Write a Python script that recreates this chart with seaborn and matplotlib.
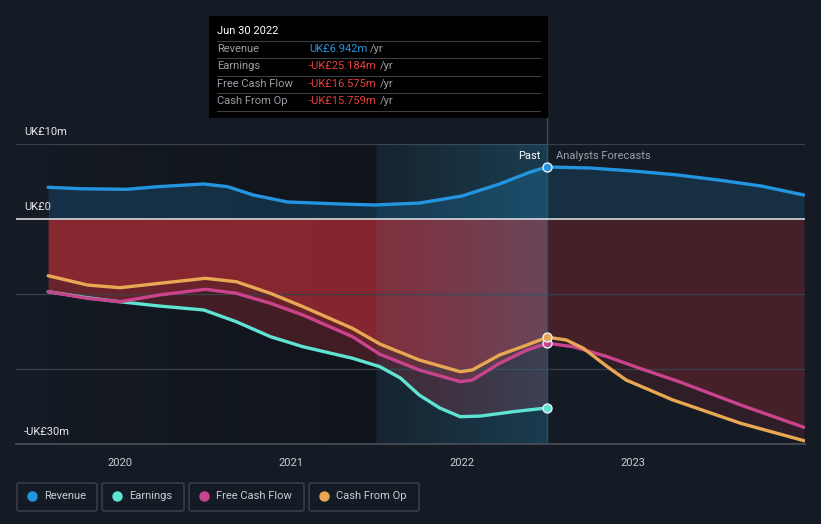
import numpy as np
import pandas as pd
import seaborn as sns
import matplotlib
matplotlib.use("Agg")
import matplotlib.pyplot as plt
from matplotlib.patches import Rectangle, FancyBboxPatch

# ---------------- data (UK£ m) ----------------
rev_x = [2019.58, 2019.77, 2020.04, 2020.22, 2020.49, 2020.63, 2020.78, 2020.98, 2021.29,
         2021.49, 2021.75, 2022.0, 2022.22, 2022.40, 2022.5]
rev_y = [4.23, 4.04, 3.96, 4.31, 4.67, 4.31, 3.2, 2.27, 2.0, 1.87, 2.13, 3.07, 4.67, 6.27, 6.942]
rev_fx = [2022.5, 2022.75, 2023.0, 2023.25, 2023.5, 2023.75, 2024.0]
rev_fy = [6.942, 6.8, 6.4, 5.9, 5.2, 4.4, 3.2]

earn_x = [2019.58, 2019.81, 2020.0, 2020.23, 2020.49, 2020.68, 2020.88, 2021.07, 2021.36,
          2021.52, 2021.64, 2021.75, 2021.87, 2021.99, 2022.11, 2022.30, 2022.5]
earn_y = [-9.69, -10.5, -11.03, -11.6, -12.13, -13.69, -15.69, -17.03, -18.57,
          -19.69, -21.2, -23.47, -25.2, -26.36, -26.27, -25.69, -25.184]

fcf_x = [2019.58, 2019.81, 2020.0, 2020.23, 2020.5, 2020.68, 2020.88, 2021.07, 2021.36,
         2021.52, 2021.75, 2021.99, 2022.06, 2022.22, 2022.38, 2022.5]
fcf_y = [-9.69, -10.58, -11.03, -10.13, -9.37, -9.9, -11.24, -12.8, -15.69,
         -18.04, -20.13, -21.69, -21.47, -19.24, -17.47, -16.575]
cfo_x = [2019.58, 2019.81, 2020.0, 2020.23, 2020.5, 2020.68, 2020.88, 2021.07, 2021.36,
         2021.52, 2021.75, 2021.99, 2022.06, 2022.22, 2022.38, 2022.5]
cfo_y = [-7.56, -8.8, -9.16, -8.58, -7.91, -8.36, -9.91, -11.69, -14.58,
         -16.67, -18.8, -20.36, -20.13, -18.13, -16.8, -15.759]

fcf_fx = [2022.5, 2022.65, 2022.85, 2023.04, 2023.27, 2023.63, 2024.0]
fcf_fy = [-16.575, -17.02, -18.36, -19.91, -21.69, -24.8, -27.78]
cfo_fx = [2022.5, 2022.61, 2022.71, 2022.85, 2022.96, 2023.12, 2023.23, 2023.63, 2024.0]
cfo_fy = [-15.759, -16.13, -17.24, -19.69, -21.47, -23.02, -24.1, -27.24, -29.56]

years = [2020, 2021, 2022, 2023]
year_labels = ["2020", "2021", "2022", "2023"]
ytick_vals = [10, 0, -30]
ytick_labels = ["UK£10m", "UK£0", "-UK£30m"]

series_names = ["Revenue", "Earnings", "Free Cash Flow", "Cash From Op"]
series_colors = ["#2394df", "#5fe3d2", "#c9448c", "#e8a752"]
tooltip_date = "Jun 30 2022"
tooltip_vals = ["UK£6.942m", "-UK£25.184m", "-UK£16.575m", "-UK£15.759m"]

# ---------------- style ----------------
BG = "#151b24"
sns.set_style("dark")
plt.rcParams["font.family"] = ["Roboto", "DejaVu Sans"]

W, H = 821, 524
fig = plt.figure(figsize=(W / 100, H / 100), dpi=100, facecolor=BG)

def fx(x):
    return x / W

def fy(y):
    return 1 - y / H

ax = fig.add_axes([fx(16), fy(444), (805 - 16) / W, (444 - 118) / H])
ax.set_facecolor(BG)
XMIN, XMAX = 2019.392, 2024.006
YMIN, YMAX = -30, 13.47
ax.set_xlim(XMIN, XMAX)
ax.set_ylim(YMIN, YMAX)

# darker past background (gradient)
grad = np.zeros((2, 256, 4))
grad[..., 3] = np.linspace(0.05, 0.22, 256)[None, :]
ax.imshow(grad, extent=(rev_x[0], 2021.5, YMIN, 10), aspect="auto", zorder=0.5,
          interpolation="bilinear")

# revenue fill
ax.fill_between(rev_x, rev_y, 0, color=series_colors[0], alpha=0.2, lw=0, zorder=1)
ax.fill_between(rev_fx, rev_fy, 0, color=series_colors[0], alpha=0.17, lw=0, zorder=1)

# negative fills (past)
red = "#e0343e"
ax.fill_between(earn_x, earn_y, 0, color=red, alpha=0.24, lw=0, zorder=1)
ax.fill_between(fcf_x, fcf_y, 0, color=red, alpha=0.24, lw=0, zorder=1)
ax.fill_between(cfo_x, cfo_y, 0, color=red, alpha=0.26, lw=0, zorder=1)
# negative fills (forecast)
ax.fill_between(fcf_fx, fcf_fy, 0, color=red, alpha=0.13, lw=0, zorder=1)
ax.fill_between(cfo_fx, cfo_fy, 0, color=red, alpha=0.13, lw=0, zorder=1)

# highlighted last-year band (gradient)
hg = np.zeros((2, 256, 4))
hg[..., 0] = 0.15
hg[..., 1] = 0.55
hg[..., 2] = 0.72
hg[..., 3] = np.linspace(0.08, 0.30, 256)[None, :]
ax.imshow(hg, extent=(2021.5, 2022.5, YMIN, 10), aspect="auto", zorder=1.5,
          interpolation="bilinear")

# grid lines
for v in [10, -10, -20]:
    ax.axhline(v, color="#3a3f48", lw=0.9, zorder=1.2)
ax.axhline(0, color="#e8e8ea", lw=1.1, zorder=3)
ax.axvline(2022.5, color="#24546a", lw=1.0, zorder=1.6)

# lines
lw = 2.4
line_sets = [
    (rev_x, rev_y, series_colors[0]), (rev_fx, rev_fy, series_colors[0]),
    (earn_x, earn_y, series_colors[1]),
    (fcf_x, fcf_y, series_colors[2]), (fcf_fx, fcf_fy, series_colors[2]),
    (cfo_x, cfo_y, series_colors[3]), (cfo_fx, cfo_fy, series_colors[3]),
]
for xs, ys, c in line_sets:
    l = sns.lineplot(x=xs, y=ys, ax=ax, color=c, lw=lw, sort=False, estimator=None, zorder=4)
for ln in ax.lines:
    ln.set_solid_joinstyle("round")
    ln.set_solid_capstyle("round")

# markers at the tooltip date
for yv, c in zip([rev_y[-1], earn_y[-1], fcf_y[-1], cfo_y[-1]], series_colors):
    ax.scatter([2022.5], [yv], s=42, color=c, edgecolor="#e8eef2", linewidth=1.0, zorder=5)

# axes cosmetics
for s in ["top", "right", "left"]:
    ax.spines[s].set_visible(False)
ax.spines["bottom"].set_color("#4a4f58")
ax.spines["bottom"].set_linewidth(1.2)
ax.set_xticks(years)
ax.set_xticklabels(year_labels)
ax.set_yticks([])
ax.tick_params(axis="x", length=4, color="#4a4f58", labelcolor="#c9cdd3",
               labelsize=8, pad=6, direction="out")
ax.grid(False)
ax.set_xlabel("")
ax.set_ylabel("")

# y labels
for v, lab in zip(ytick_vals, ytick_labels):
    ypix = 219 - v * 7.5 - 12
    fig.text(fx(24), fy(ypix), lab, color="#e6e8eb", fontsize=8, va="center", ha="left")

# past / forecast labels
fig.text(fx(540), fy(156), "Past", color="#ffffff", fontsize=8, ha="right", va="center")
fig.text(fx(556), fy(156), "Analysts Forecasts", color="#9aa0a8", fontsize=8,
         ha="left", va="center")

# tooltip
fig.patches.append(Rectangle((fx(209), fy(118)), (548 - 209) / W, (118 - 16) / H,
                             transform=fig.transFigure, facecolor="#000000",
                             edgecolor="none", zorder=10))
fig.text(fx(217), fy(31), tooltip_date, color="#ffffff", fontsize=8, va="center",
         zorder=11)
for yy in [41, 58, 76, 93, 111]:
    fig.add_artist(plt.Line2D([fx(217), fx(540)], [fy(yy), fy(yy)], color="#3c3f44",
                              lw=0.8, transform=fig.transFigure, zorder=11))
row_y = [49, 66, 84, 101]
for i, (name, val) in enumerate(zip(series_names, tooltip_vals)):
    fig.text(fx(217), fy(row_y[i]), name, color="#9b9fa5", fontsize=8, va="center",
             zorder=11)
    vc = "#2394df" if i == 0 else "#e8413f"
    t = fig.text(fx(309), fy(row_y[i]), val, color=vc, fontsize=8, va="center", zorder=11)
    fig.canvas.draw()
    bb = t.get_window_extent()
    fig.text(bb.x1 / W + 3 / W, fy(row_y[i]), "/yr", color="#9b9fa5", fontsize=8,
             va="center", zorder=11)

# legend
boxes = [(17, 97), (102, 184), (189, 304), (309, 419)]
for (x0, x1), name, c in zip(boxes, series_names, series_colors):
    fig.patches.append(FancyBboxPatch((fx(x0), fy(511)), (x1 - x0) / W, (511 - 483) / H,
                                      boxstyle="round,pad=0,rounding_size=0.003",
                                      transform=fig.transFigure, facecolor="none",
                                      edgecolor="#3f444c", lw=1.0))
    fig.add_artist(plt.Line2D([fx(x0 + 15)], [fy(496)], marker="o", markersize=6.5,
                              color=c, lw=0, transform=fig.transFigure))
    fig.text(fx(x0 + 27), fy(496), name, color="#c9cdd3", fontsize=8, va="center")

fig.savefig("out.png", dpi=100, facecolor=BG)
